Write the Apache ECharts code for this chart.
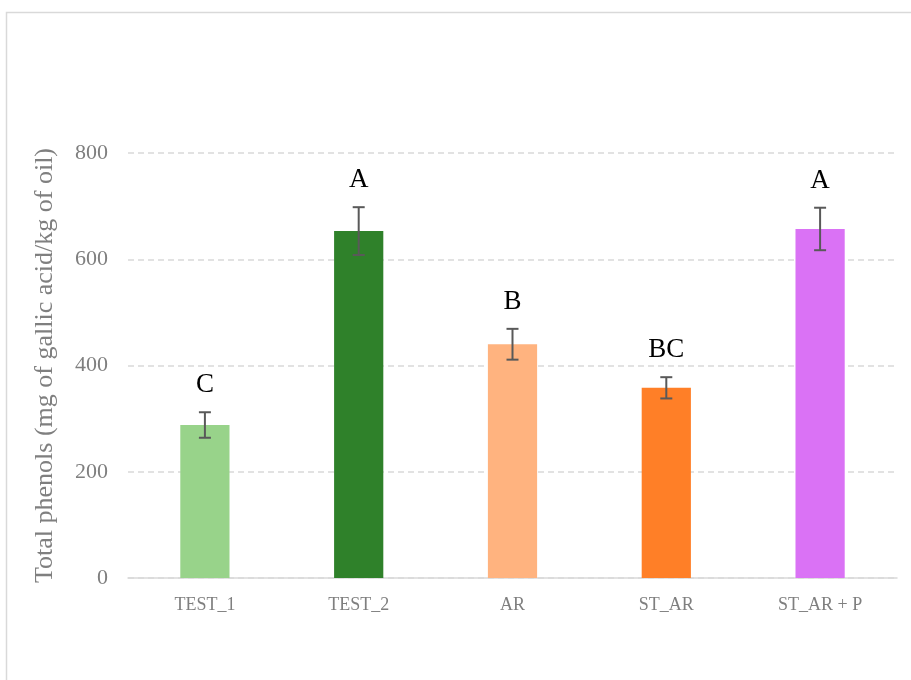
<!DOCTYPE html>
<html>
<head>
<meta charset="utf-8">
<script src="https://cdn.jsdelivr.net/npm/echarts@6/dist/echarts.min.js"></script>
<style>
  html, body { margin: 0; padding: 0; background: #fff; }
  #chart { width: 911px; height: 680px; }
</style>
</head>
<body>
<div id="chart"></div>
<script>
// Total phenols per sample with standard deviation and significance letters
const categories = ['TEST_1', 'TEST_2', 'AR', 'ST_AR', 'ST_AR + P'];
const phenols = [288, 653, 440, 358, 657];
const errors = [24, 45, 29, 20, 40];
const letters = ['C', 'A', 'B', 'BC', 'A'];
const barColors = ['#98d38a', '#2f812a', '#ffb37f', '#ff7f27', '#da72f5'];
const yTicks = [0, 200, 400, 600, 800];

const font = '"Liberation Serif", "Times New Roman", serif';

const chart = echarts.init(document.getElementById('chart'), null, { renderer: 'canvas' });

const errData = categories.map((c, i) => [i, phenols[i] - errors[i], phenols[i] + errors[i]]);

chart.setOption({
  animation: false,
  backgroundColor: '#ffffff',
  graphic: [{
    type: 'rect',
    shape: { x: 6.5, y: 12.5, width: 1000, height: 800 },
    style: { fill: 'none', stroke: '#d9d9d9', lineWidth: 1.5 },
    silent: true,
    z: -1
  }],
  grid: { left: 128, right: 14, top: 153, bottom: 102, containLabel: false },
  xAxis: {
    type: 'category',
    data: categories,
    axisLine: { show: true, lineStyle: { color: '#d9d9d9', width: 1.5 } },
    axisTick: { show: false },
    axisLabel: { color: '#7f7f7f', fontFamily: font, fontSize: 18, margin: 18 }
  },
  yAxis: {
    type: 'value',
    min: yTicks[0],
    max: yTicks[yTicks.length - 1],
    interval: 200,
    name: 'Total phenols (mg of gallic acid/kg of oil)',
    nameLocation: 'middle',
    nameGap: 70,
    nameTextStyle: { color: '#7f7f7f', fontFamily: font, fontSize: 26 },
    axisLine: { show: false },
    axisTick: { show: false },
    axisLabel: { color: '#7f7f7f', fontFamily: font, fontSize: 22, margin: 20 },
    splitLine: { lineStyle: { color: '#d9d9d9', type: [6, 4], width: 1.5 } }
  },
  series: [{
    type: 'bar',
    barWidth: '32%',
    data: phenols.map((v, i) => ({ value: v, itemStyle: { color: barColors[i] } })),
    z: 2
  }, {
    type: 'custom',
    z: 3,
    data: errData,
    renderItem: function (params, api) {
      const x = api.coord([api.value(0), 0])[0];
      const lo = api.coord([api.value(0), api.value(1)])[1];
      const hi = api.coord([api.value(0), api.value(2)])[1];
      const cap = 6;
      const st = { stroke: '#595959', lineWidth: 2, fill: 'none' };
      return {
        type: 'group',
        children: [
          { type: 'line', shape: { x1: x, y1: lo, x2: x, y2: hi }, style: st },
          { type: 'line', shape: { x1: x - cap, y1: lo, x2: x + cap, y2: lo }, style: st },
          { type: 'line', shape: { x1: x - cap, y1: hi, x2: x + cap, y2: hi }, style: st },
          {
            type: 'text',
            style: {
              text: letters[params.dataIndex],
              x: x, y: hi - 27,
              align: 'center', verticalAlign: 'middle',
              fill: '#000000',
              font: '27px ' + font
            }
          }
        ]
      };
    }
  }]
});
</script>
</body>
</html>
